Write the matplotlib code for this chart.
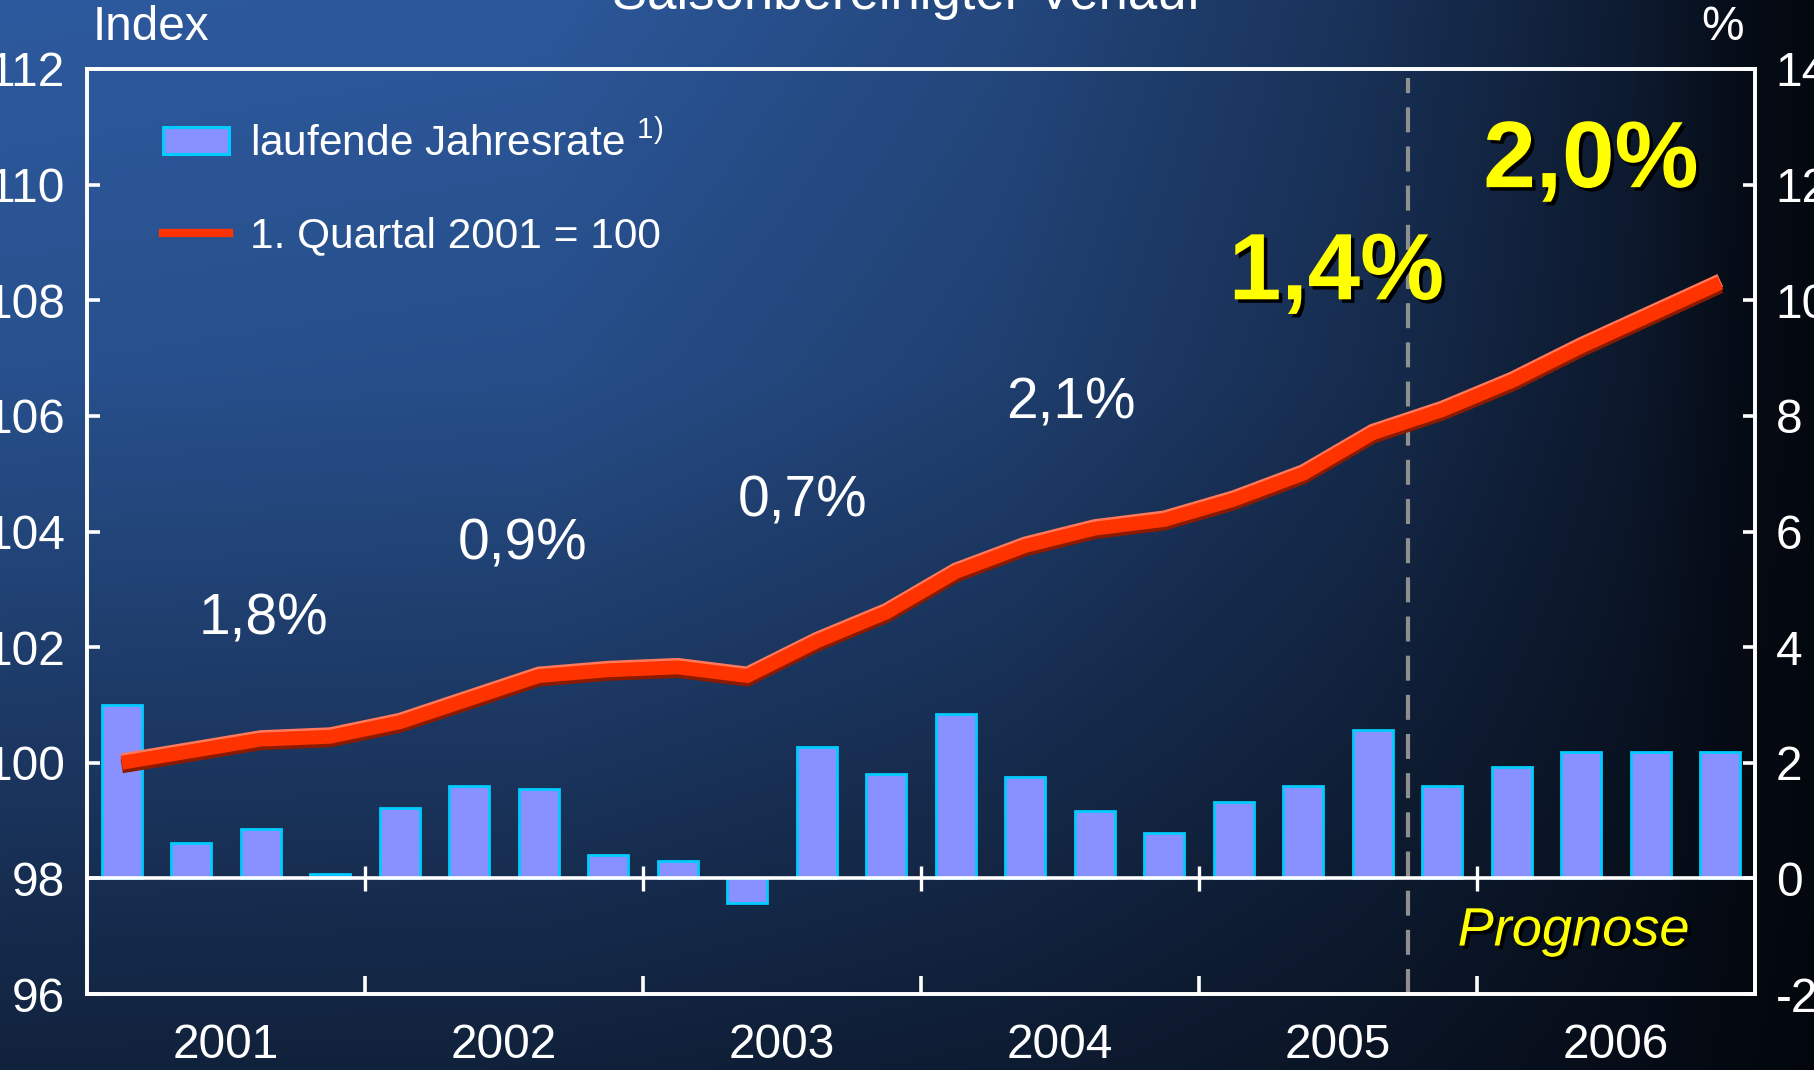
import numpy as np
import matplotlib
matplotlib.use("Agg")
import matplotlib.pyplot as plt
from matplotlib import patheffects as pe
from matplotlib import font_manager as fm
from matplotlib.patches import Patch
from matplotlib.lines import Line2D

plt.rcParams['font.family'] = ['Liberation Sans', 'DejaVu Sans']

# ---------------- data ----------------
years = ['2001', '2002', '2003', '2004', '2005', '2006']
quarters_per_year = 4
# laufende Jahresrate (%), right axis
rate = [3.0, 0.62, 0.86, 0.08,
        1.22, 1.60, 1.54, 0.40,
        0.30, -0.42, 2.28, 1.80,
        2.84, 1.76, 1.16, 0.78,
        1.32, 1.60, 2.56, 1.60,
        1.92, 2.18, 2.18, 2.18]
# index, 1. Quartal 2001 = 100, left axis
index = [100.0, 100.2, 100.4, 100.45,
         100.7, 101.1, 101.5, 101.6,
         101.65, 101.5, 102.1, 102.6,
         103.3, 103.75, 104.05, 104.2,
         104.55, 105.0, 105.7, 106.1,
         106.6, 107.2, 107.75, 108.3]
annual_growth = ['1,8%', '0,9%', '0,7%', '2,1%', '1,4%', '2,0%']
left_ticks = [96, 98, 100, 102, 104, 106, 108, 110, 112]
right_ticks = [-2, 0, 2, 4, 6, 8, 10, 12, 14]
forecast_start_quarter = 19
legend_labels = ['laufende Jahresrate $^{\\mathregular{1)}}$', '1. Quartal 2001 = 100']
title = 'Saisonbereinigter Verlauf'

# annotation placement (x in quarters, y in index units)
annot_pos = [(2.54, 102.48), (6.26, 103.78), (10.29, 104.52),
             (14.15, 106.22), (17.98, 108.44), (21.64, 110.38)]
annot_big = [False, False, False, False, True, True]

# narrow font if available
try:
    fm.findfont(fm.FontProperties(family='Liberation Sans Narrow'), fallback_to_default=False)
    NARROW = ['Liberation Sans Narrow', 'Liberation Sans', 'DejaVu Sans']
    nscale = 1.0
except Exception:
    NARROW = ['Liberation Sans', 'DejaVu Sans']
    nscale = 0.93

TICK_FS = 37 * nscale
ANN_FS = 44 * nscale

# ---------------- figure ----------------
W, H, DPI = 1814, 1070, 100
fig = plt.figure(figsize=(W / DPI, H / DPI), dpi=DPI)

# background gradient
bg = fig.add_axes([0, 0, 1, 1], zorder=-10)
nx, ny = 400, 240
xx = np.linspace(0, 1, nx)
yy = np.linspace(0, 1, ny)  # 0 = top
gx = np.interp(xx, [0, 0.3, 0.55, 0.75, 0.9, 0.96, 1.0],
               [1.0, 0.97, 0.78, 0.52, 0.25, 0.08, 0.03])
gy = np.interp(yy, [0, 0.35, 1.0], [1.0, 0.88, 0.33])
f = gy[:, None] * gx[None, :]
bright = np.array([0x2d, 0x5a, 0x9e]) / 255
dark = np.array([0x03, 0x06, 0x0c]) / 255
img = dark[None, None, :] + (bright - dark)[None, None, :] * f[:, :, None]
bg.imshow(img, extent=[0, 1, 0, 1], aspect='auto', origin='upper', interpolation='bicubic')
bg.set_axis_off()

L, R, T, B = 87 / W, 1755 / W, 1 - 69 / H, 1 - 994 / H
ax = fig.add_axes([L, B, R - L, T - B])
ax2 = ax.twinx()
ax.set_zorder(2)
ax2.set_zorder(1)
ax.patch.set_visible(False)
ax2.patch.set_visible(False)

n = len(rate)
xc = np.arange(n) + 0.5

# bars
ax2.bar(xc, rate, width=0.58, color='#8891FF', edgecolor='#00CCFF', linewidth=2.0, zorder=2)
ax2.axhline(0, color='white', lw=2.6, zorder=3)
bounds = np.arange(quarters_per_year, n, quarters_per_year)
ax2.vlines(bounds, -0.22, 0.22, color='white', lw=2.4, zorder=3)
ax2.axvline(forecast_start_quarter, ymin=0, ymax=0.99, color='#8f8f8f', lw=3.0,
            linestyle=(0, (6, 3.4)), zorder=1)

# index line
ax.plot(xc, index, color='#FF3300', lw=10, solid_capstyle='butt', solid_joinstyle='miter', zorder=5,
        path_effects=[pe.SimpleLineShadow(offset=(0, 1.8), shadow_color='#FF7A5C', alpha=1),
                      pe.SimpleLineShadow(offset=(0, -2.6), shadow_color='#8A1A00', alpha=1),
                      pe.Normal()])

ax.set_xlim(0, n)
ax.set_ylim(left_ticks[0], left_ticks[-1])
ax2.set_ylim(right_ticks[0], right_ticks[-1])

for a in (ax, ax2):
    for s in a.spines.values():
        s.set_color('white')
        s.set_linewidth(2.6)

ax.set_yticks(left_ticks)
ax.set_yticklabels([str(v) for v in left_ticks], family=NARROW)
ax.tick_params(axis='y', direction='in', length=9, width=2.6, color='white',
               labelcolor='white', labelsize=TICK_FS, pad=16)
ax2.set_yticks(right_ticks)
ax2.set_yticklabels([str(v) for v in right_ticks], family=NARROW)
ax2.tick_params(axis='y', direction='in', length=9, width=2.6, color='white',
                labelcolor='white', labelsize=TICK_FS, pad=15)

ax.set_xticks(bounds)
ax.set_xticklabels([])
ax.set_xticks(np.arange(len(years)) * quarters_per_year + quarters_per_year / 2, minor=True)
ax.set_xticklabels(years, minor=True, family=NARROW)
ax.tick_params(axis='x', which='major', direction='in', length=13, width=2.6, color='white')
ax.tick_params(axis='x', which='minor', length=0, labelcolor='white', labelsize=TICK_FS, pad=21)
ax2.tick_params(axis='x', which='both', length=0)

# annotations
shadow = [pe.SimplePatchShadow(offset=(2.5, -2.5), shadow_rgbFace='black', alpha=1), pe.Normal()]
for txt, (x, y), big in zip(annual_growth, annot_pos, annot_big):
    if big:
        ax.text(x, y, txt, ha='center', va='center', fontsize=68, fontweight='bold',
                color='#FFFF00', path_effects=shadow, zorder=6)
    else:
        ax.text(x, y, txt, ha='center', va='center', fontsize=ANN_FS, color='white',
                family=NARROW, zorder=6)

ax.text(21.39, 97.08, 'Prognose', ha='center', va='center', fontsize=39, style='italic',
        color='#FFFF00', path_effects=shadow, zorder=6)

# legend
handles = [Patch(facecolor='#8891FF', edgecolor='#00CCFF', linewidth=2.2),
           Line2D([], [], color='#FF3300', lw=6)]
ax.legend(handles, legend_labels, loc='upper left', bbox_to_anchor=(163 / W, 1 - 122 / H),
          bbox_transform=fig.transFigure, frameon=False, fontsize=30.5, labelcolor='white',
          handlelength=1.56, handleheight=0.6, handletextpad=0.5, labelspacing=1.22,
          borderpad=0, borderaxespad=0)

# header texts
fig.text(0.5, 1 - 9 / H, title, ha='center', va='baseline', fontsize=38 * (1.12 if nscale == 1.0 else 1.0),
         color='white', family=NARROW)
fig.text(93 / W, 1 - 40 / H, 'Index', ha='left', va='baseline', fontsize=37 * nscale,
         color='white', family=NARROW)
fig.text(1723 / W, 1 - 40 / H, '%', ha='center', va='baseline', fontsize=37 * nscale,
         color='white', family=NARROW)

fig.savefig('out.png', dpi=DPI)
